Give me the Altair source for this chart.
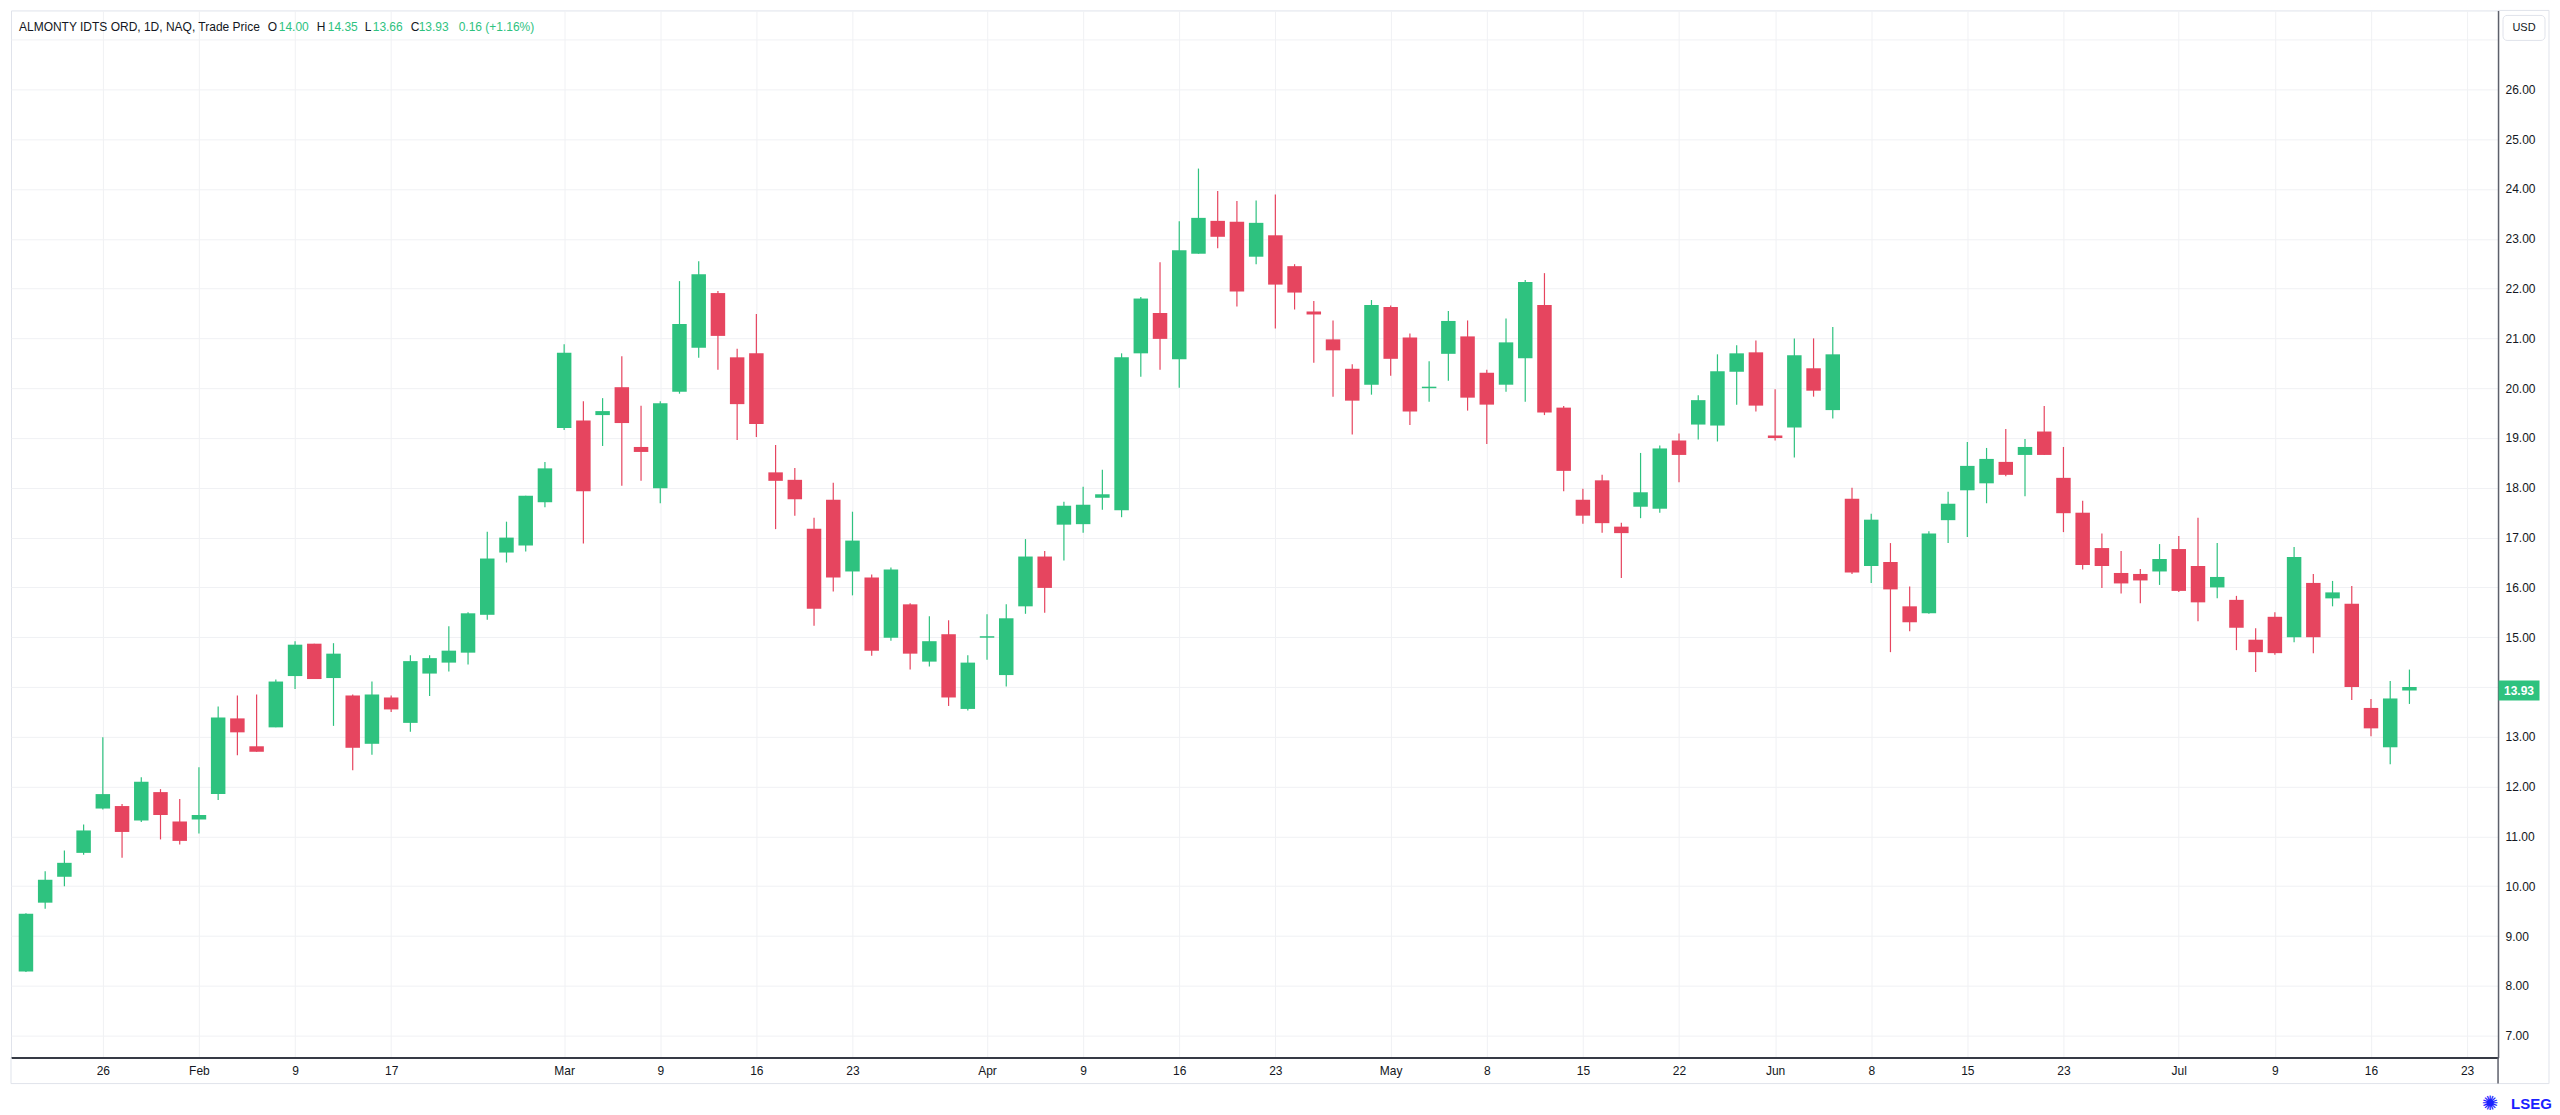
import altair as alt
import pandas as pd

# ---------------- data ----------------
dates = [
    "2026-01-20", "2026-01-21", "2026-01-22", "2026-01-23", "2026-01-26", "2026-01-27", "2026-01-28", "2026-01-29", "2026-01-30",
    "2026-02-02", "2026-02-03", "2026-02-04", "2026-02-05", "2026-02-06", "2026-02-09", "2026-02-10", "2026-02-11", "2026-02-12",
    "2026-02-13", "2026-02-17", "2026-02-18", "2026-02-19", "2026-02-20", "2026-02-23", "2026-02-24", "2026-02-25", "2026-02-26",
    "2026-02-27",
    "2026-03-02", "2026-03-03", "2026-03-04", "2026-03-05", "2026-03-06", "2026-03-09", "2026-03-10", "2026-03-11", "2026-03-12",
    "2026-03-13", "2026-03-16", "2026-03-17", "2026-03-18", "2026-03-19", "2026-03-20", "2026-03-23", "2026-03-24", "2026-03-25",
    "2026-03-26", "2026-03-27", "2026-03-30", "2026-03-31",
    "2026-04-01", "2026-04-02", "2026-04-06", "2026-04-07", "2026-04-08", "2026-04-09", "2026-04-10", "2026-04-13", "2026-04-14",
    "2026-04-15", "2026-04-16", "2026-04-17", "2026-04-20", "2026-04-21", "2026-04-22", "2026-04-23", "2026-04-24", "2026-04-27",
    "2026-04-28", "2026-04-29", "2026-04-30",
    "2026-05-01", "2026-05-04", "2026-05-05", "2026-05-06", "2026-05-07", "2026-05-08", "2026-05-11", "2026-05-12", "2026-05-13",
    "2026-05-14", "2026-05-15", "2026-05-18", "2026-05-19", "2026-05-20", "2026-05-21", "2026-05-22", "2026-05-26", "2026-05-27",
    "2026-05-28", "2026-05-29",
    "2026-06-01", "2026-06-02", "2026-06-03", "2026-06-04", "2026-06-05", "2026-06-08", "2026-06-09", "2026-06-10", "2026-06-11",
    "2026-06-12", "2026-06-15", "2026-06-16", "2026-06-17", "2026-06-18", "2026-06-22", "2026-06-23", "2026-06-24", "2026-06-25",
    "2026-06-26", "2026-06-29", "2026-06-30",
    "2026-07-01", "2026-07-02", "2026-07-06", "2026-07-07", "2026-07-08", "2026-07-09", "2026-07-10", "2026-07-13", "2026-07-14",
    "2026-07-15", "2026-07-16", "2026-07-17", "2026-07-20",
]

opens = [
    8.29, 9.67, 10.19, 10.67, 11.56, 11.61, 11.32, 11.89, 11.30, 11.34,
    11.85, 13.37, 12.81, 13.19, 14.22, 14.87, 14.18, 13.83, 12.86, 13.79,
    13.28, 14.27, 14.49, 14.69, 15.45, 16.70, 16.84, 17.71, 19.20, 19.35,
    19.46, 20.02, 18.82, 17.99, 19.93, 20.81, 21.91, 20.62, 20.70, 18.31,
    18.16, 17.18, 17.76, 16.32, 16.20, 14.99, 15.66, 14.51, 15.06, 13.56,
    14.99, 14.24, 15.62, 16.62, 17.26, 17.27, 17.80, 17.55, 20.70, 21.51,
    20.58, 22.70, 23.36, 23.34, 22.64, 23.07, 22.45, 21.54, 20.98, 20.39,
    20.07, 21.63, 21.02, 20.00, 20.69, 21.04, 20.31, 20.07, 20.60, 21.67,
    19.61, 17.76, 18.15, 17.22, 17.62, 17.58, 18.95, 19.27, 19.25, 20.33,
    20.72, 19.05, 19.21, 20.40, 19.56, 17.78, 16.43, 16.51, 15.62, 15.48,
    17.35, 17.95, 18.09, 18.52, 18.66, 19.13, 18.20, 17.50, 16.79, 16.29,
    16.27, 16.32, 16.77, 16.43, 16.00, 15.75, 14.95, 15.41, 15.00, 16.09,
    15.78, 15.67, 13.58, 12.79, 14.00,
]
highs = [
    9.46, 10.30, 10.72, 11.24, 12.99, 11.65, 12.19, 11.95, 11.75, 12.39,
    13.61, 13.83, 13.85, 14.15, 14.92, 14.87, 14.88, 13.85, 14.11, 13.83,
    14.64, 14.64, 15.22, 15.50, 17.12, 17.32, 17.84, 18.52, 20.88, 19.74,
    19.80, 20.64, 19.65, 19.74, 22.15, 22.55, 21.95, 20.79, 21.49, 18.86,
    18.40, 17.40, 18.10, 17.52, 16.26, 16.40, 15.68, 15.42, 15.34, 14.64,
    15.46, 15.66, 16.97, 16.73, 17.72, 18.02, 18.36, 20.70, 21.83, 22.53,
    23.35, 24.41, 23.96, 23.76, 23.77, 23.89, 22.49, 21.75, 21.36, 20.48,
    21.77, 21.66, 21.10, 20.54, 21.55, 21.36, 20.37, 21.40, 22.17, 22.31,
    19.64, 17.98, 18.26, 17.30, 18.70, 18.85, 19.09, 19.86, 20.68, 20.86,
    20.96, 19.98, 21.00, 21.00, 21.23, 18.00, 17.48, 16.89, 16.02, 17.13,
    17.92, 18.92, 18.80, 19.18, 18.98, 19.64, 18.82, 17.74, 17.08, 16.73,
    16.37, 16.87, 17.03, 17.40, 16.89, 15.83, 15.18, 15.50, 16.81, 16.27,
    16.13, 16.03, 13.76, 14.12, 14.35,
]
lows = [
    8.28, 9.55, 10.00, 10.63, 11.54, 10.57, 11.29, 10.94, 10.84, 11.06,
    11.73, 12.63, 12.70, 13.19, 13.96, 14.16, 13.22, 12.33, 12.64, 13.50,
    13.10, 13.82, 14.31, 14.45, 15.35, 16.50, 16.72, 17.61, 19.16, 16.88,
    18.84, 18.04, 18.14, 17.69, 19.89, 20.61, 20.37, 18.96, 19.02, 17.17,
    17.44, 15.23, 15.92, 15.84, 14.63, 14.93, 14.35, 14.41, 13.62, 13.53,
    14.55, 14.01, 15.47, 15.49, 16.54, 17.10, 17.56, 17.41, 20.23, 20.37,
    20.01, 22.70, 22.81, 21.64, 22.49, 21.20, 21.58, 20.51, 19.83, 19.07,
    19.87, 20.25, 19.26, 19.73, 20.15, 19.55, 18.88, 19.93, 19.73, 19.46,
    17.93, 17.28, 17.10, 16.19, 17.39, 17.50, 18.11, 18.97, 18.93, 19.67,
    19.53, 18.95, 18.61, 19.83, 19.39, 16.27, 16.09, 14.70, 15.12, 15.47,
    16.89, 17.01, 17.69, 18.23, 17.83, 18.66, 17.11, 16.36, 15.99, 15.88,
    15.68, 16.05, 15.91, 15.32, 15.78, 14.74, 14.30, 14.65, 14.90, 14.68,
    15.62, 13.74, 13.01, 12.45, 13.66,
]
closes = [
    9.45, 10.13, 10.47, 11.12, 11.85, 11.09, 12.10, 11.43, 10.91, 11.43,
    13.39, 13.09, 12.70, 14.11, 14.85, 14.16, 14.67, 12.78, 13.85, 13.55,
    14.52, 14.58, 14.73, 15.48, 16.58, 17.00, 17.84, 18.39, 20.71, 17.93,
    19.54, 19.30, 18.72, 19.70, 21.29, 22.29, 21.05, 19.68, 19.28, 18.14,
    17.77, 15.57, 16.20, 16.94, 14.73, 16.36, 14.67, 14.92, 13.79, 14.49,
    15.02, 15.38, 16.62, 15.99, 17.64, 17.66, 17.87, 20.62, 21.80, 20.99,
    22.77, 23.42, 23.04, 21.94, 23.32, 22.08, 21.92, 21.48, 20.76, 19.75,
    21.67, 20.59, 19.53, 20.03, 21.35, 19.81, 19.67, 20.92, 22.13, 19.51,
    18.34, 17.44, 17.29, 17.09, 17.91, 18.79, 18.66, 19.76, 20.34, 20.70,
    19.65, 19.00, 20.66, 19.95, 20.68, 16.30, 17.36, 15.96, 15.30, 17.08,
    17.68, 18.44, 18.58, 18.26, 18.82, 18.66, 17.49, 16.45, 16.43, 16.08,
    16.14, 16.57, 15.93, 15.70, 16.21, 15.19, 14.70, 14.68, 16.61, 15.00,
    15.90, 14.00, 13.17, 13.77, 13.93,
]

# x-axis tick labels (positions are trading-day indices; 127 = Jul 23, beyond last bar)
tick_idx = [4, 9, 14, 19, 28, 33, 38, 43, 50, 55, 60, 65, 71, 76, 81, 86, 91, 96, 101, 106, 112, 117, 122, 127]
tick_labels = ["26", "Feb", "9", "17", "Mar", "9", "16", "23", "Apr", "9", "16", "23",
               "May", "8", "15", "22", "Jun", "8", "15", "23", "Jul", "9", "16", "23"]
price_ticks = list(range(7, 28))

title_text = "ALMONTY IDTS ORD, 1D, NAQ, Trade Price"
currency = "USD"
last_change = 0.16
last_change_pct = 1.16

# ---------------- styling ----------------
GREEN = "#2EC27F"
RED = "#E6455F"
TEXT = "#131722"
GRID = "#F0F1F4"
FRAME = "#E0E3EB"
FONT = "Liberation Sans"

W, H = 2489, 1048

n = len(closes)
dirs = ["up" if closes[i] > opens[i] else "down" for i in range(n)]
dirs[-1] = "up" if last_change > 0 else "down"

df = pd.DataFrame({
    "idx": list(range(n)),
    "date": dates,
    "o": opens, "h": highs, "l": lows, "c": closes,
    "dir": dirs,
})

xscale = alt.Scale(domain=[-0.518, 128.35], nice=False, zero=False)
yscale = alt.Scale(domain=[6.559, 27.585], nice=False, zero=False)
cscale = alt.Scale(domain=["up", "down"], range=[GREEN, RED])

label_expr_x = ("[" + ",".join("'" + s + "'" for s in tick_labels) + "][indexof(["
                + ",".join(str(v) for v in tick_idx) + "], datum.value)]")

xaxis = alt.Axis(values=tick_idx, labelExpr=label_expr_x, grid=True, gridColor=GRID,
                 ticks=False, tickSize=0, domainColor="#363A45", domainWidth=2,
                 labelPadding=8, labelFontSize=12, labelColor=TEXT, labelFont=FONT,
                 labelFlush=False, labelOverlap=False, title=None)
yaxis = alt.Axis(orient="right", values=price_ticks,
                 labelExpr="datum.value > 26.5 ? '' : format(datum.value, '.2f')",
                 grid=True, gridColor=GRID, ticks=False, tickSize=0,
                 domainColor="#5D606B", domainWidth=1.5, labelPadding=7,
                 labelFontSize=12, labelColor=TEXT, labelFont=FONT,
                 labelOverlap=False, labelFlush=False, title=None)

base = alt.Chart(df)

wicks = base.mark_rule(strokeWidth=1.2).encode(
    x=alt.X("idx:Q", scale=xscale, axis=xaxis),
    y=alt.Y("l:Q", scale=yscale, axis=yaxis),
    y2="h:Q",
    color=alt.Color("dir:N", scale=cscale, legend=None),
)
bodies = base.mark_bar(width=14.5).encode(
    x=alt.X("idx:Q", scale=xscale, axis=xaxis),
    y=alt.Y("o:Q", scale=yscale, axis=yaxis),
    y2="c:Q",
    color=alt.Color("dir:N", scale=cscale, legend=None),
)

one = pd.DataFrame({"k": [0]})


def txt(s, x, y, color=TEXT, size=12, weight="normal", align="left", font=FONT):
    return alt.Chart(one).mark_text(align=align, baseline="middle", fontSize=size,
                                    fontWeight=weight, font=font, color=color).encode(
        x=alt.value(x), y=alt.value(y), text=alt.value(s))


def hline(x1, x2, y, color=FRAME, w=1):
    return alt.Chart(one).mark_rule(color=color, strokeWidth=w).encode(
        x=alt.value(x1), x2=alt.value(x2), y=alt.value(y))


def vline(x, y1, y2, color=FRAME, w=1):
    return alt.Chart(one).mark_rule(color=color, strokeWidth=w).encode(
        x=alt.value(x), y=alt.value(y1), y2=alt.value(y2))


# header legend line
hy = 17
header = [
    txt(title_text, 8, hy),
    txt("O", 257, hy), txt(f"{opens[-1]:.2f}", 268, hy, GREEN),
    txt("H", 306, hy), txt(f"{highs[-1]:.2f}", 317, hy, GREEN),
    txt("L", 354, hy), txt(f"{lows[-1]:.2f}", 362, hy, GREEN),
    txt("C", 400, hy), txt(f"{closes[-1]:.2f}", 408, hy, GREEN),
    txt(f"{last_change:.2f} (+{last_change_pct:.2f}%)", 448, hy, GREEN),
]

# frame lines around the axis strips
frame = [
    hline(W, 2540, 0),
    vline(2540, 0, 1074),
    hline(0, 2540, 1074),
    vline(0, H, 1074),
    vline(W, H, 1074, color="#5D606B", w=1.5),
]

# currency box
usd_box = alt.Chart(one).mark_rect(fill="white", stroke=FRAME, strokeWidth=1, cornerRadius=4).encode(
    x=alt.value(2494), x2=alt.value(2536), y=alt.value(5), y2=alt.value(30))
usd_txt = txt(currency, 2515, 17.5, size=11, align="center")

# last price tag
last_df = pd.DataFrame({"c": [closes[-1]]})
tag = alt.Chart(last_df).mark_tick(orient="horizontal", thickness=20, size=41, color=GREEN, opacity=1).encode(
    x=alt.value(2510), y=alt.Y("c:Q", scale=yscale, axis=yaxis))
tag_txt = alt.Chart(last_df).mark_text(color="white", fontSize=12, fontWeight="bold", font=FONT,
                                       align="center", baseline="middle").encode(
    x=alt.value(2510), y=alt.Y("c:Q", scale=yscale, axis=yaxis), text=alt.Text("c:Q", format=".2f"))

# logo
logo_icon = txt("\u273A", 2481, 1094, color="#1A22FF", size=20, align="center", font="DejaVu Sans")
logo_txt = txt("LSEG", 2502, 1094, color="#1A22FF", size=15, weight="bold")

chart = alt.layer(
    wicks, bodies, *frame, usd_box, usd_txt, tag, tag_txt, *header, logo_icon, logo_txt
).properties(
    width=W, height=H,
    padding={"left": 2, "top": 1, "right": 0, "bottom": 0},
    background="white",
).configure_view(stroke=FRAME, strokeWidth=1)

chart.save("out.html", embed_options={"renderer": "svg", "actions": False})
